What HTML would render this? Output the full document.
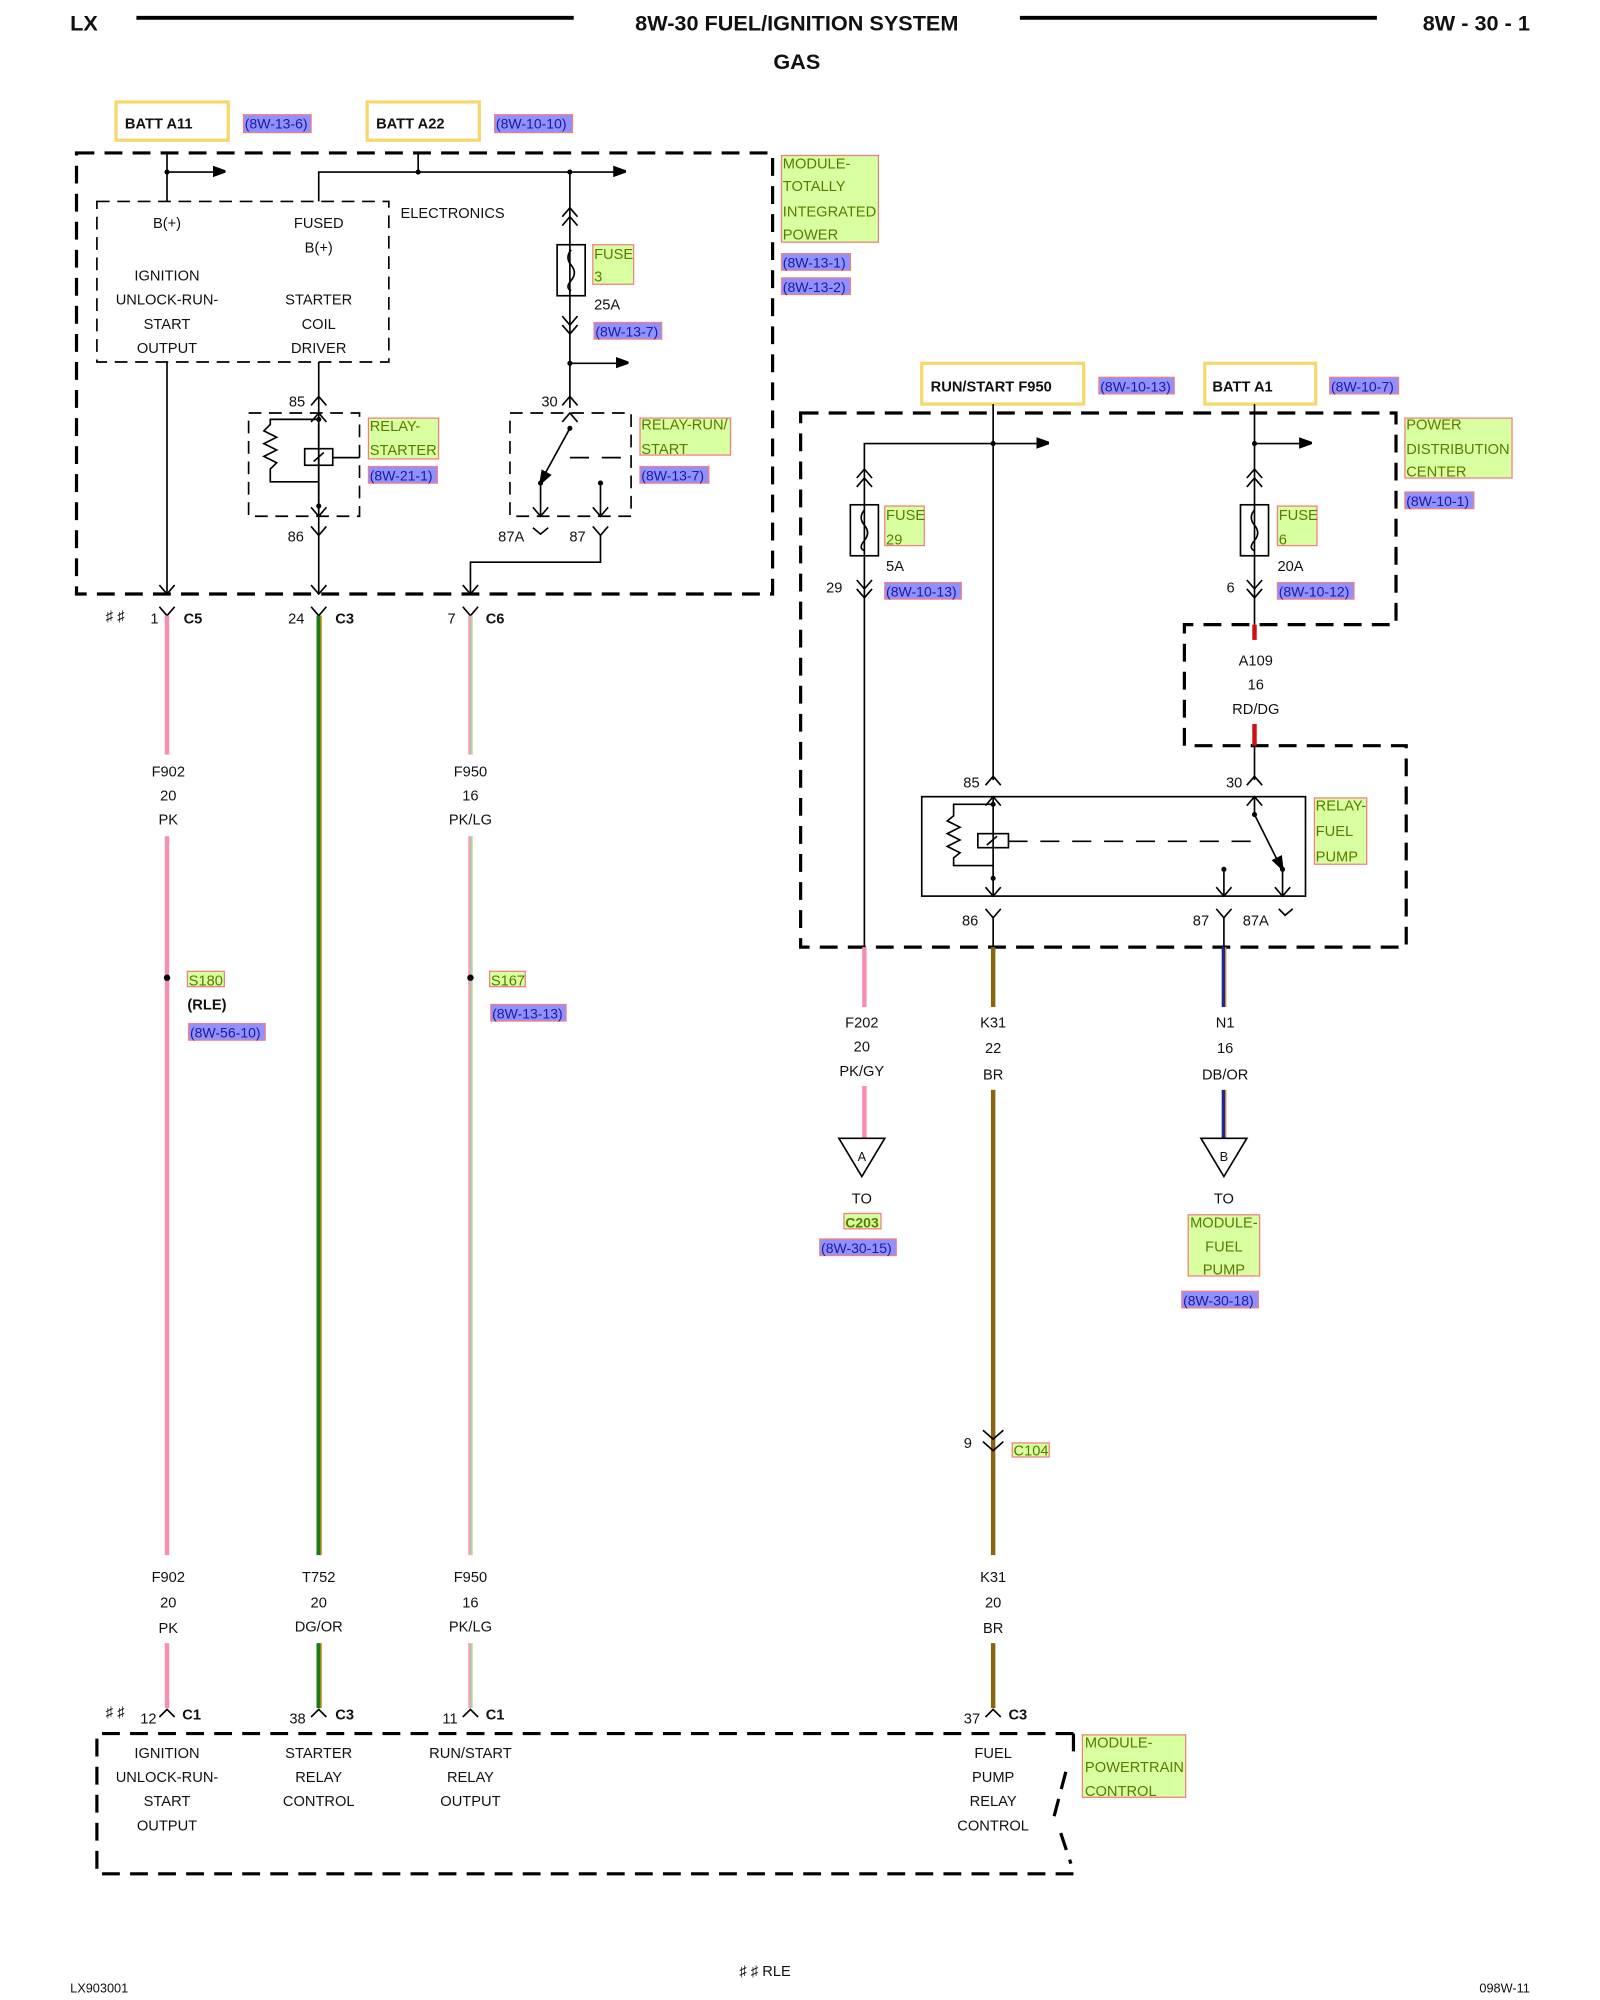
<!DOCTYPE html>
<html><head><meta charset="utf-8"><style>
html,body{margin:0;padding:0;background:#fff;}
svg{display:block;}
text{font-family:"Liberation Sans",sans-serif;font-size:11.5px;fill:#111;}
.b{font-weight:bold;}
.c{text-anchor:middle;}
.g{fill:#5a7a00;font-size:11.5px;}
.p{fill:#1a1aa0;font-size:11px;}
.gb{fill:#d8ffa0;stroke:#f08080;stroke-width:1;}
.pb{fill:#9090ff;stroke:#f08080;stroke-width:1;}
.yb{fill:#fff;stroke:#f7d66a;stroke-width:2.5;}
.l{stroke:#000;stroke-width:1.3;fill:none;}
.d{stroke:#000;stroke-width:2.5;fill:none;stroke-dasharray:14 8;}
.dt{stroke:#000;stroke-width:1.3;fill:none;stroke-dasharray:10 6;}
</style></head><body>
<svg width="1600" height="2000" viewBox="0 0 1255 1569" preserveAspectRatio="none" xmlns="http://www.w3.org/2000/svg">
<defs>
<marker id="ar" markerWidth="10" markerHeight="10" refX="9" refY="5" orient="auto" markerUnits="userSpaceOnUse"><path d="M0,0 L14,5 L0,10 z" transform="scale(0.9)"/></marker>
</defs>
<!-- header -->
<text x="55" y="24" class="b" style="font-size:17px">LX</text>
<line x1="107" y1="14" x2="450" y2="14" stroke="#000" stroke-width="3"/>
<text x="625" y="24" class="b c" style="font-size:17px">8W-30 FUEL/IGNITION SYSTEM</text>
<line x1="800" y1="14" x2="1080" y2="14" stroke="#000" stroke-width="3"/>
<text x="1200" y="24" class="b" style="font-size:17px;text-anchor:end">8W - 30 - 1</text>
<text x="625" y="54" class="b c" style="font-size:17px">GAS</text>

<!-- top labels -->
<rect x="91" y="80" width="88" height="30" class="yb"/><text x="98" y="101" class="b">BATT A11</text>
<rect x="191" y="90" width="53" height="14" class="pb"/><text x="192" y="101" class="p">(8W-13-6)</text>
<rect x="288" y="80" width="88" height="30" class="yb"/><text x="295" y="101" class="b">BATT A22</text>
<rect x="388" y="90" width="61" height="14" class="pb"/><text x="389" y="101" class="p">(8W-10-10)</text>

<!-- TIPM -->
<rect x="60" y="120" width="546" height="346" class="d"/>
<rect x="76" y="158" width="229" height="126" class="dt"/>
<rect x="613" y="122" width="76" height="68" class="gb"/>
<text x="614" y="132" class="g">MODULE-</text><text x="614" y="150" class="g">TOTALLY</text><text x="614" y="170" class="g">INTEGRATED</text><text x="614" y="188" class="g">POWER</text>
<rect x="613" y="199" width="54" height="13" class="pb"/><text x="614" y="210" class="p">(8W-13-1)</text>
<rect x="613" y="218" width="54" height="13" class="pb"/><text x="614" y="229" class="p">(8W-13-2)</text>

<line x1="131" y1="120" x2="131" y2="158" class="l"/>
<line x1="131" y1="284" x2="131" y2="466" class="l"/>
<circle cx="131" cy="135" r="2"/><line x1="131" y1="135" x2="176" y2="135" class="l" marker-end="url(#ar)"/>
<path d="M250 158 V135 H490" class="l" marker-end="url(#ar)"/>
<line x1="328" y1="120" x2="328" y2="135" class="l"/><circle cx="328" cy="135" r="2"/>
<circle cx="447" cy="135" r="2"/>
<line x1="447" y1="135" x2="447" y2="320" class="l"/>
<path d="M441 170 L447 163 L453 170 M441 177 L447 170 L453 177" class="l"/>
<rect x="437" y="192" width="22" height="40" fill="#fff" class="l"/>
<path d="M448 196 q-5 6 0 12 q5 6 0 12 q-5 6 0 8" class="l"/>
<path d="M441 248 L447 255 L453 248 M441 255 L447 262 L453 255" class="l"/>
<circle cx="447" cy="285" r="2"/><line x1="447" y1="285" x2="492" y2="285" class="l" marker-end="url(#ar)"/>
<rect x="465" y="192" width="32" height="31" class="gb"/><text x="466" y="203" class="g">FUSE</text><text x="466" y="221" class="g">3</text>
<text x="466" y="243">25A</text>
<rect x="466" y="253" width="53" height="13" class="pb"/><text x="467" y="264" class="p">(8W-13-7)</text>

<text x="355" y="171" class="c">ELECTRONICS</text>
<text x="131" y="179" class="c">B(+)</text><text x="250" y="179" class="c">FUSED</text><text x="250" y="198" class="c">B(+)</text>
<text x="131" y="220" class="c">IGNITION</text>
<text x="131" y="239" class="c">UNLOCK-RUN-</text><text x="250" y="239" class="c">STARTER</text>
<text x="131" y="258" class="c">START</text><text x="250" y="258" class="c">COIL</text>
<text x="131" y="277" class="c">OUTPUT</text><text x="250" y="277" class="c">DRIVER</text>

<!-- starter relay -->
<line x1="250" y1="284" x2="250" y2="466" class="l"/>
<text x="233" y="319" class="c">85</text><path d="M244 318 L250 311 L256 318" class="l"/>
<rect x="195" y="324" width="87" height="81" class="dt"/>
<path d="M244 331 L250 324 L256 331 M244 398 L250 405 L256 398" class="l"/>
<path d="M250 329 V400 M250 329 H212 V333 l-5 5 l10 5 l-10 5 l10 5 l-10 5 l10 5 l-5 5 v10 H250" class="l"/>
<circle cx="250" cy="329" r="2"/><circle cx="250" cy="397" r="2"/>
<rect x="239" y="352" width="22" height="13" fill="#fff" class="l"/><line x1="246" y1="362" x2="254" y2="355" class="l"/>
<line x1="261" y1="359" x2="282" y2="359" class="l"/>
<text x="232" y="425" class="c">86</text><path d="M244 413 L250 420 L256 413" class="l"/>
<path d="M244 459 L250 466 L256 459" class="l"/>
<rect x="289" y="328" width="55" height="32" class="gb"/><text x="290" y="338" class="g">RELAY-</text><text x="290" y="357" class="g">STARTER</text>
<rect x="289" y="366" width="54" height="13" class="pb"/><text x="290" y="377" class="p">(8W-21-1)</text>

<!-- run/start relay -->
<text x="431" y="319" class="c">30</text><path d="M441 318 L447 311 L453 318" class="l"/>
<rect x="400" y="324" width="95" height="81" class="dt"/>
<path d="M441 331 L447 324 L453 331" class="l"/>
<circle cx="447" cy="336" r="2"/><line x1="447" y1="336" x2="424" y2="378" class="l" marker-end="url(#ar)"/>
<circle cx="424" cy="379" r="2"/><line x1="424" y1="379" x2="424" y2="405" class="l"/>
<circle cx="471" cy="379" r="2"/><line x1="471" y1="379" x2="471" y2="405" class="l"/>
<path d="M418 398 L424 405 L430 398 M465 398 L471 405 L477 398" class="l"/>
<line x1="447" y1="359" x2="495" y2="359" class="l" stroke-dasharray="15 10"/>
<text x="401" y="425" class="c">87A</text><path d="M418 414 L424 419 L430 414" class="l"/>
<text x="453" y="425" class="c">87</text><path d="M465 413 L471 420 L477 413" class="l"/>
<path d="M471 420 V441 H369 V466" class="l"/>
<path d="M363 459 L369 466 L375 459" class="l"/>
<rect x="502" y="328" width="71" height="29" class="gb"/><text x="503" y="337" class="g">RELAY-RUN/</text><text x="503" y="356" class="g">START</text>
<rect x="502" y="366" width="54" height="13" class="pb"/><text x="503" y="377" class="p">(8W-13-7)</text>
<path d="M125 459 L131 466 L137 459" class="l"/>

<!-- connectors top -->
<text x="83" y="487">♯ ♯</text>
<text x="118" y="489">1</text><path d="M125 476 L131 483 L137 476" class="l"/><text x="144" y="489" class="b">C5</text>
<text x="226" y="489">24</text><path d="M244 476 L250 483 L256 476" class="l"/><text x="263" y="489" class="b">C3</text>
<text x="351" y="489">7</text><path d="M363 476 L369 483 L375 476" class="l"/><text x="381" y="489" class="b">C6</text>

<!-- wires left -->
<g stroke-width="3.5">
<line x1="131" y1="483" x2="131" y2="592" stroke="#f48fb1"/>
<line x1="131" y1="656" x2="131" y2="1220" stroke="#f48fb1"/>
<line x1="131" y1="1289" x2="131" y2="1340" stroke="#f48fb1"/>
<line x1="250" y1="483" x2="250" y2="1220" stroke="#1a7a1a"/>
<line x1="252" y1="483" x2="252" y2="1220" stroke="#e8a040" stroke-width="1.2"/>
<line x1="250" y1="1289" x2="250" y2="1340" stroke="#1a7a1a"/>
<line x1="252" y1="1289" x2="252" y2="1340" stroke="#e8a040" stroke-width="1.2"/>
<line x1="369" y1="483" x2="369" y2="592" stroke="#f4a0b8"/>
<line x1="369" y1="656" x2="369" y2="1220" stroke="#f4a0b8"/>
<line x1="369" y1="1289" x2="369" y2="1340" stroke="#f4a0b8"/>
</g>
<line x1="370" y1="483" x2="370" y2="592" stroke="#90e890" stroke-width="1.2"/>
<line x1="370" y1="656" x2="370" y2="1220" stroke="#90e890" stroke-width="1.2"/>
<line x1="370" y1="1289" x2="370" y2="1340" stroke="#90e890" stroke-width="1.2"/>

<text x="132" y="609" class="c">F902</text><text x="132" y="628" class="c">20</text><text x="132" y="647" class="c">PK</text>
<text x="369" y="609" class="c">F950</text><text x="369" y="628" class="c">16</text><text x="369" y="647" class="c">PK/LG</text>
<circle cx="131" cy="767" r="2.5"/>
<rect x="147" y="762" width="29" height="12" class="gb"/><text x="148" y="773" class="g">S180</text>
<text x="147" y="792" class="b">(RLE)</text>
<rect x="148" y="803" width="60" height="13" class="pb"/><text x="149" y="814" class="p">(8W-56-10)</text>
<circle cx="369" cy="767" r="2.5"/>
<rect x="384" y="762" width="28" height="12" class="gb"/><text x="385" y="773" class="g">S167</text>
<rect x="385" y="788" width="59" height="13" class="pb"/><text x="386" y="799" class="p">(8W-13-13)</text>

<text x="132" y="1241" class="c">F902</text><text x="132" y="1261" class="c">20</text><text x="132" y="1281" class="c">PK</text>
<text x="250" y="1241" class="c">T752</text><text x="250" y="1261" class="c">20</text><text x="250" y="1280" class="c">DG/OR</text>
<text x="369" y="1241" class="c">F950</text><text x="369" y="1261" class="c">16</text><text x="369" y="1280" class="c">PK/LG</text>
<text x="779" y="1241" class="c">K31</text><text x="779" y="1261" class="c">20</text><text x="779" y="1281" class="c">BR</text>

<!-- bottom connectors -->
<text x="83" y="1347">♯ ♯</text>
<text x="110" y="1352">12</text><path d="M125 1347 L131 1341 L137 1347" class="l"/><text x="143" y="1349" class="b">C1</text>
<text x="227" y="1352">38</text><path d="M244 1347 L250 1341 L256 1347" class="l"/><text x="263" y="1349" class="b">C3</text>
<text x="347" y="1352">11</text><path d="M363 1347 L369 1341 L375 1347" class="l"/><text x="381" y="1349" class="b">C1</text>
<text x="756" y="1352">37</text><path d="M773 1347 L779 1341 L785 1347" class="l"/><text x="791" y="1349" class="b">C3</text>

<!-- PCM -->
<path d="M842 1360 H76 V1470 H842 M842 1360 V1380 M836 1390 L826 1428 M832 1438 L840 1462" class="d"/>
<rect x="849" y="1361" width="81" height="49" class="gb"/><text x="851" y="1371" class="g">MODULE-</text><text x="851" y="1390" class="g">POWERTRAIN</text><text x="851" y="1409" class="g">CONTROL</text>
<text x="131" y="1379" class="c">IGNITION</text><text x="131" y="1398" class="c">UNLOCK-RUN-</text><text x="131" y="1417" class="c">START</text><text x="131" y="1436" class="c">OUTPUT</text>
<text x="250" y="1379" class="c">STARTER</text><text x="250" y="1398" class="c">RELAY</text><text x="250" y="1417" class="c">CONTROL</text>
<text x="369" y="1379" class="c">RUN/START</text><text x="369" y="1398" class="c">RELAY</text><text x="369" y="1417" class="c">OUTPUT</text>
<text x="779" y="1379" class="c">FUEL</text><text x="779" y="1398" class="c">PUMP</text><text x="779" y="1417" class="c">RELAY</text><text x="779" y="1436" class="c">CONTROL</text>

<!-- right side labels -->
<rect x="723" y="285" width="127" height="32" class="yb"/><text x="730" y="307" class="b">RUN/START F950</text>
<rect x="862" y="296" width="59" height="13" class="pb"/><text x="863" y="307" class="p">(8W-10-13)</text>
<rect x="945" y="285" width="87" height="32" class="yb"/><text x="951" y="307" class="b">BATT A1</text>
<rect x="1043" y="296" width="54" height="13" class="pb"/><text x="1044" y="307" class="p">(8W-10-7)</text>

<!-- PDC -->
<path d="M628 324 H1095 V490 H929 V585 H1103 V743 H628 Z" class="d"/>
<rect x="1102" y="328" width="84" height="47" class="gb"/><text x="1103" y="337" class="g">POWER</text><text x="1103" y="356" class="g">DISTRIBUTION</text><text x="1103" y="374" class="g">CENTER</text>
<rect x="1102" y="386" width="54" height="13" class="pb"/><text x="1103" y="397" class="p">(8W-10-1)</text>

<line x1="779" y1="317" x2="779" y2="612" class="l"/>
<circle cx="779" cy="348" r="2"/>
<path d="M678 743 V348 H822" class="l" marker-end="url(#ar)"/>
<path d="M672 375 L678 368 L684 375 M672 382 L678 375 L684 382" class="l"/>
<rect x="667" y="396" width="22" height="40" fill="#fff" class="l"/>
<path d="M678 400 q-5 6 0 12 q5 6 0 12 q-5 6 0 8" class="l"/>
<path d="M672 455 L678 462 L684 455 M672 462 L678 469 L684 462" class="l"/>
<text x="648" y="465">29</text>
<rect x="694" y="397" width="31" height="31" class="gb"/><text x="695" y="408" class="g">FUSE</text><text x="695" y="427" class="g">29</text>
<text x="695" y="448">5A</text>
<rect x="694" y="457" width="60" height="13" class="pb"/><text x="695" y="468" class="p">(8W-10-13)</text>

<line x1="984" y1="317" x2="984" y2="490" class="l"/>
<circle cx="984" cy="348" r="2"/><line x1="984" y1="348" x2="1028" y2="348" class="l" marker-end="url(#ar)"/>
<path d="M978 375 L984 368 L990 375 M978 382 L984 375 L990 382" class="l"/>
<rect x="973" y="396" width="22" height="40" fill="#fff" class="l"/>
<path d="M984 400 q-5 6 0 12 q5 6 0 12 q-5 6 0 8" class="l"/>
<path d="M978 455 L984 462 L990 455 M978 462 L984 469 L990 462" class="l"/>
<text x="962" y="465">6</text>
<rect x="1002" y="397" width="31" height="31" class="gb"/><text x="1003" y="408" class="g">FUSE</text><text x="1003" y="427" class="g">6</text>
<text x="1002" y="448">20A</text>
<rect x="1002" y="457" width="60" height="13" class="pb"/><text x="1003" y="468" class="p">(8W-10-12)</text>
<line x1="984" y1="490" x2="984" y2="502" stroke="#d01010" stroke-width="3.5"/>
<text x="985" y="522" class="c">A109</text><text x="985" y="541" class="c">16</text><text x="985" y="560" class="c">RD/DG</text>
<line x1="984" y1="568" x2="984" y2="585" stroke="#d01010" stroke-width="3.5"/>
<line x1="984" y1="585" x2="984" y2="612" class="l"/>

<!-- fuel pump relay -->
<text x="762" y="618" class="c">85</text><path d="M773 616 L779 609 L785 616" class="l"/>
<text x="968" y="618" class="c">30</text><path d="M978 616 L984 609 L990 616" class="l"/>
<rect x="723" y="625" width="301" height="78" fill="none" class="l"/>
<path d="M773 632 L779 625 L785 632 M773 696 L779 703 L785 696" class="l"/>
<path d="M779 625 V703 M779 631 H748 V640 l-5 4 l10 5 l-10 5 l10 5 l-10 5 l10 5 l-5 4 v6 H779" class="l"/>
<circle cx="779" cy="631" r="2"/><circle cx="779" cy="689" r="2"/>
<rect x="767" y="654" width="24" height="11" fill="#fff" class="l"/><line x1="774" y1="663" x2="782" y2="656" class="l"/>
<line x1="791" y1="660" x2="990" y2="660" class="l" stroke-dasharray="15 10"/>
<path d="M978 632 L984 625 L990 632 M984 625 V639" class="l"/>
<circle cx="984" cy="639" r="2"/><line x1="984" y1="639" x2="1005" y2="681" class="l" marker-end="url(#ar)"/>
<circle cx="1006" cy="682" r="2"/><line x1="1006" y1="682" x2="1006" y2="703" class="l"/>
<circle cx="960" cy="682" r="2"/><line x1="960" y1="682" x2="960" y2="703" class="l"/>
<path d="M954 696 L960 703 L966 696 M1000 696 L1006 703 L1012 696" class="l"/>
<rect x="1031" y="626" width="41" height="52" class="gb"/><text x="1032" y="636" class="g">RELAY-</text><text x="1032" y="656" class="g">FUEL</text><text x="1032" y="676" class="g">PUMP</text>
<text x="761" y="726" class="c">86</text><path d="M773 713 L779 720 L785 713" class="l"/><line x1="779" y1="720" x2="779" y2="743" class="l"/>
<text x="942" y="726" class="c">87</text><path d="M954 713 L960 720 L966 713" class="l"/><line x1="960" y1="720" x2="960" y2="743" class="l"/>
<text x="985" y="726" class="c">87A</text><path d="M1003 713 L1008 718 L1014 713" class="l"/>

<!-- lower right wires -->
<line x1="678" y1="743" x2="678" y2="790" stroke="#f48fb1" stroke-width="3.5"/>
<text x="676" y="806" class="c">F202</text><text x="676" y="825" class="c">20</text><text x="676" y="844" class="c">PK/GY</text>
<line x1="678" y1="852" x2="678" y2="893" stroke="#f48fb1" stroke-width="3.5"/>
<path d="M658 893 H694 L676 923 Z" fill="#fff" class="l"/><text x="676" y="911" class="c" style="font-size:10px">A</text>
<text x="676" y="944" class="c">TO</text>
<rect x="662" y="952" width="29" height="12" class="gb"/><text x="663" y="963" class="g b" style="font-size:11px">C203</text>
<rect x="643" y="972" width="60" height="13" class="pb"/><text x="644" y="983" class="p">(8W-30-15)</text>

<line x1="779" y1="743" x2="779" y2="790" stroke="#8a6510" stroke-width="3.5"/>
<text x="779" y="806" class="c">K31</text><text x="779" y="826" class="c">22</text><text x="779" y="847" class="c">BR</text>
<line x1="779" y1="855" x2="779" y2="1220" stroke="#8a6510" stroke-width="3.5"/>
<line x1="779" y1="1289" x2="779" y2="1340" stroke="#8a6510" stroke-width="3.5"/>
<path d="M771 1122 L779 1129 L787 1122 M771 1131 L779 1138 L787 1131" class="l"/>
<text x="756" y="1136">9</text>
<rect x="794" y="1132" width="29" height="11" class="gb"/><text x="795" y="1142" class="g">C104</text>

<line x1="960" y1="743" x2="960" y2="790" stroke="#1a2a90" stroke-width="3.5"/>
<line x1="961.5" y1="743" x2="961.5" y2="790" stroke="#e8a040" stroke-width="1"/>
<text x="961" y="806" class="c">N1</text><text x="961" y="826" class="c">16</text><text x="961" y="847" class="c">DB/OR</text>
<line x1="960" y1="855" x2="960" y2="893" stroke="#1a2a90" stroke-width="3.5"/>
<line x1="961.5" y1="855" x2="961.5" y2="893" stroke="#e8a040" stroke-width="1"/>
<path d="M942 893 H978 L960 923 Z" fill="#fff" class="l"/><text x="960" y="911" class="c" style="font-size:10px">B</text>
<text x="960" y="944" class="c">TO</text>
<rect x="932" y="953" width="56" height="48" class="gb"/><text x="960" y="963" class="g c">MODULE-</text><text x="960" y="982" class="g c">FUEL</text><text x="960" y="1000" class="g c">PUMP</text>
<rect x="927" y="1013" width="60" height="13" class="pb"/><text x="928" y="1024" class="p">(8W-30-18)</text>

<!-- footer -->
<text x="55" y="1563" style="font-size:10px">LX903001</text>
<text x="580" y="1550">♯ ♯  RLE</text>
<text x="1200" y="1563" style="font-size:10px;text-anchor:end">098W-11</text>
</svg>
</body></html>
